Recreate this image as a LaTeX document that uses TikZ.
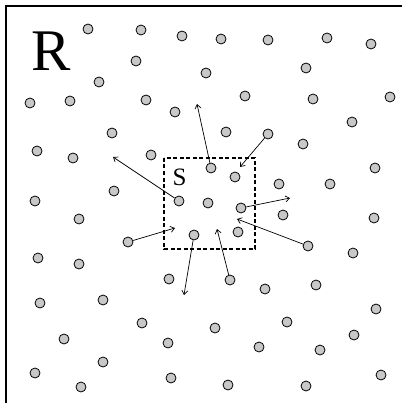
\documentclass[tikz,border=0pt]{standalone}
\usepackage{fontspec}
\setmainfont{Liberation Serif}
\usetikzlibrary{arrows.meta}
\definecolor{dotgray}{RGB}{200,200,200}
\tikzset{
  dot/.style={circle, draw=black, line width=0.8pt, fill=dotgray, minimum size=10pt, inner sep=0pt},
  move/.style={draw, line width=0.7pt, -{Straight Barb[length=4pt,width=6pt]}},
  region/.style={line width=1.8pt},
  sub/.style={draw, line width=1.6pt, dash pattern=on 4pt off 2.5pt}
}
\begin{document}
\begin{tikzpicture}[x=1pt,y=-1pt]
\useasboundingbox (0,0) rectangle (401,403);
\draw[region] (6,410) -- (6,6) -- (410,6);
\node[font=\fontsize{59}{60}\selectfont] (R) at (51,51) {R};
\draw[sub] (164,158) rectangle (255,249);
\node[font=\fontsize{25}{26}\selectfont] (S) at (179.5,177.5) {S};
\foreach \n/\x/\y in {
1/88/29, 2/141/30, 3/182/36, 4/221/39, 5/268/40, 6/327/38, 7/371/44,
8/136/61, 9/206/73, 10/306/68, 11/99/82, 12/30/103, 13/70/101, 14/146/100,
15/175/112, 16/245/96, 17/313/99, 18/390/97, 19/352/122, 20/112/133,
21/226/132, 22/268/134, 23/37/151, 24/73/158, 25/151/155, 26/303/144,
27/211/168, 28/235/177, 29/279/184, 30/330/184, 31/375/168, 32/114/191,
33/35/201, 34/179/201, 35/208/203, 36/241/208, 37/283/215, 38/374/218,
39/79/219, 40/194/235, 41/238/232, 42/128/242, 43/308/246, 44/38/258,
45/79/264, 46/353/253, 47/169/279, 48/230/280, 49/265/289, 50/316/285,
51/40/303, 52/103/300, 53/376/309, 54/142/323, 55/215/328, 56/287/322,
57/64/339, 58/168/343, 59/259/347, 60/354/335, 61/320/350, 62/103/362,
63/35/373, 64/81/387, 65/171/378, 66/228/385, 67/306/386, 68/381/375}
  \node[dot] (c\n) at (\x,\y) {};
\coordinate (e1) at (197,104);
\coordinate (e2) at (113,157);
\coordinate (e3) at (240,167);
\coordinate (e4) at (290,198);
\coordinate (e5) at (175,228);
\coordinate (e6) at (237,219);
\coordinate (e7) at (184,295);
\coordinate (e8) at (217,229);
\draw[move] (c27) -- (e1);
\draw[move] (c34) -- (e2);
\draw[move] (c22) -- (e3);
\draw[move] (c36) -- (e4);
\draw[move] (c42) -- (e5);
\draw[move] (c43) -- (e6);
\draw[move] (c40) -- (e7);
\draw[move] (c48) -- (e8);
\end{tikzpicture}
\end{document}
